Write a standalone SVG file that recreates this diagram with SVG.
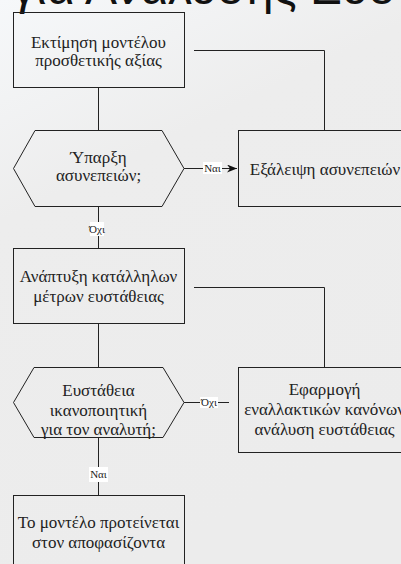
<svg xmlns="http://www.w3.org/2000/svg" width="401" height="564" viewBox="0 0 401 564">
<defs>
<linearGradient id="bg" x1="0" y1="0" x2="0.35" y2="1">
<stop offset="0" stop-color="#f6f8fa"/>
<stop offset="0.35" stop-color="#ededed"/>
<stop offset="1" stop-color="#ececec"/>
</linearGradient>
<marker id="arr" markerWidth="10" markerHeight="8" refX="10" refY="4" orient="auto" markerUnits="userSpaceOnUse">
<path d="M0,0 L10,4 L0,8 L3,4 Z" fill="#111"/>
</marker>
<style>
.shape{fill:none;stroke:#222;stroke-width:1}
.t{font-family:"Liberation Serif","DejaVu Serif",serif;font-size:17px;fill:#222;text-anchor:middle}
.lbl{font-family:"Liberation Serif","DejaVu Serif",serif;font-size:11px;fill:#222;text-anchor:middle}
.lb{fill:#fff}
.c{fill:none;stroke:#222;stroke-width:1}
.title{font-family:"Liberation Sans",Arial,sans-serif;font-size:48px;fill:#111}
</style>
</defs>
<rect width="401" height="564" fill="url(#bg)"/>
<text class="title" x="12" y="4">για Ανάλυσης Ευστάθειας</text>

<g id="connectors">
<path class="c" d="M98.5,87 V130"/>
<path class="c" d="M194,50.5 H324.5 V130"/>
<path class="c" d="M184,168.5 H237" marker-end="url(#arr)"/>
<path class="c" d="M98.5,206 V248"/>
<path class="c" d="M194,287.5 H324.5 V367"/>
<path class="c" d="M98.5,324 V367"/>
<path class="c" d="M184,402.5 H229"/>
<path class="c" d="M98.5,438 V495"/>
<rect class="lb" x="203" y="162" width="19" height="12"/>
<text class="lbl" x="212.5" y="172">Ναι</text>
<rect class="lb" x="90" y="222" width="14" height="14"/>
<text class="lbl" x="97" y="233">Όχι</text>
<rect class="lb" x="200" y="397" width="18" height="11"/>
<text class="lbl" x="209" y="406">Όχι</text>
<rect class="lb" x="89" y="467" width="19" height="15"/>
<text class="lbl" x="98.5" y="478">Ναι</text>
</g>

<g id="n1">
<rect class="shape" x="13.5" y="12.5" width="171" height="75"/>
<text class="t" x="98.5" y="48">Εκτίμηση μοντέλου</text>
<text class="t" x="98.5" y="66">προσθετικής αξίας</text>
</g>
<g id="n2">
<polygon class="shape" points="13.5,168.5 35,130.5 162,130.5 184,168.5 162,206.5 35,206.5"/>
<text class="t" x="98.5" y="163">Ύπαρξη</text>
<text class="t" x="98.5" y="181">ασυνεπειών;</text>
</g>
<g id="n3">
<rect class="shape" x="238.5" y="130.5" width="171" height="76"/>
<text class="t" x="325" y="175">Εξάλειψη ασυνεπειών</text>
</g>
<g id="n4">
<rect class="shape" x="13.5" y="248.5" width="171" height="75"/>
<text class="t" x="98.5" y="282">Ανάπτυξη κατάλληλων</text>
<text class="t" x="98.5" y="302">μέτρων ευστάθειας</text>
</g>
<g id="n5">
<polygon class="shape" points="13.5,402.5 34,367.5 163,367.5 184,402.5 163,437.5 34,437.5"/>
<text class="t" x="98.5" y="396">Ευστάθεια</text>
<text class="t" x="98.5" y="416">ικανοποιητική</text>
<text class="t" x="98.5" y="435">για τον αναλυτή;</text>
</g>
<g id="n6">
<rect class="shape" x="238.5" y="367.5" width="171" height="85"/>
<text class="t" x="324.5" y="395">Εφαρμογή</text>
<text class="t" x="324.5" y="415">εναλλακτικών κανόνων</text>
<text class="t" x="324.5" y="435">ανάλυση ευστάθειας</text>
</g>
<g id="n7">
<rect class="shape" x="13.5" y="495.5" width="171" height="80"/>
<text class="t" x="98.5" y="528">Το μοντέλο προτείνεται</text>
<text class="t" x="98.5" y="548">στον αποφασίζοντα</text>
</g>
</svg>
